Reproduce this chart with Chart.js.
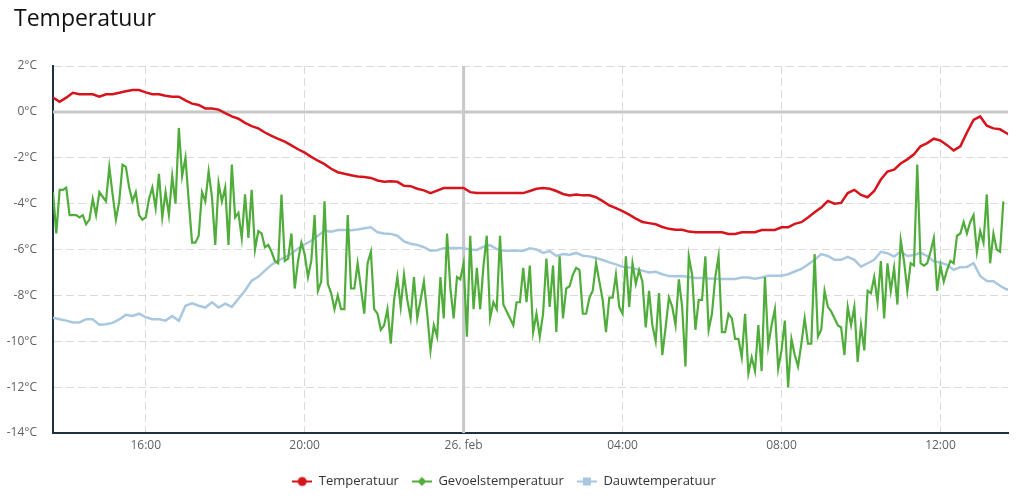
<!DOCTYPE html>
<html lang="nl">
<head>
<meta charset="utf-8">
<title>Temperatuur</title>
<script src="https://cdn.jsdelivr.net/npm/chart.js@4.4.1/dist/chart.umd.min.js"></script>
<style>
  html, body { margin: 0; padding: 0; background: #fff; }
  #wrap { position: relative; width: 1024px; height: 501px; }
  #titel {
    position: absolute; left: 14px; top: 1px; margin: 0;
    font: 500 23px 'Open Sans', sans-serif; line-height: normal; color: #111;
  }
</style>
</head>
<body>
<div id="wrap">
  <h2 id="titel">Temperatuur</h2>
  <canvas id="chart"></canvas>
</div>
<script>
// tijd in uren t.o.v. 26 feb 00:00, eerste meting 25 feb 13:40
const startUur = -10 - 20 / 60;
const eindUur = 13.7;
const stapTemp = 10 / 60;   // temperatuur en dauwpunt: elke 10 min
const stapGevoel = 5 / 60;  // gevoelstemperatuur: elke 5 min

const tickUren = [-8, -4, 0, 4, 8, 12];
const tickLabels = ['16:00', '20:00', '26. feb', '04:00', '08:00', '12:00'];
const yMin = -14, yMax = 2, yStap = 2;

const temperatuur = [
  0.63, 0.44, 0.62, 0.83, 0.77, 0.77, 0.77, 0.66, 0.77, 0.77,
  0.83, 0.9, 0.95, 0.95, 0.85, 0.77, 0.77, 0.7, 0.66, 0.66,
  0.5, 0.36, 0.3, 0.15, 0.15, 0.1, -0.05, -0.2, -0.3, -0.48,
  -0.62, -0.72, -0.9, -1.05, -1.18, -1.3, -1.46, -1.63, -1.78, -1.96,
  -2.13, -2.28, -2.48, -2.63, -2.7, -2.76, -2.82, -2.84, -2.88, -2.99,
  -3.05, -3.02, -3.05, -3.22, -3.24, -3.35, -3.42, -3.54, -3.43, -3.32,
  -3.32, -3.32, -3.32, -3.5, -3.54, -3.54, -3.54, -3.54, -3.54, -3.54,
  -3.54, -3.54, -3.45, -3.35, -3.32, -3.35, -3.45, -3.58, -3.64, -3.6,
  -3.64, -3.64, -3.72, -3.89, -4.08, -4.2, -4.33, -4.48, -4.65, -4.8,
  -4.85, -4.9, -5.02, -5.1, -5.14, -5.14, -5.22, -5.25, -5.25, -5.25,
  -5.25, -5.25, -5.32, -5.32, -5.25, -5.25, -5.25, -5.15, -5.15, -5.15,
  -5.03, -5.03, -4.88, -4.81, -4.6, -4.38, -4.17, -3.88, -4.0, -3.97,
  -3.54, -3.4, -3.62, -3.72, -3.45, -2.95, -2.6, -2.52, -2.25, -2.07,
  -1.85, -1.5, -1.36, -1.17, -1.25, -1.45, -1.68, -1.5, -0.9, -0.35,
  -0.2, -0.6, -0.72, -0.76, -0.93, -1.1
];

const dauwtemperatuur = [
  -8.97, -9.04, -9.1, -9.18, -9.18, -9.04, -9.04, -9.28, -9.26, -9.2,
  -9.05, -8.85, -8.9, -8.8, -8.95, -9.04, -9.04, -9.1, -8.9, -9.11,
  -8.45, -8.35, -8.45, -8.53, -8.3, -8.53, -8.36, -8.5, -8.15, -7.79,
  -7.36, -7.19, -6.92, -6.66, -6.49, -6.34, -6.18, -5.96, -5.77, -5.62,
  -5.4, -5.18, -5.22, -5.15, -5.15, -5.16, -5.13, -5.07, -5.03, -5.25,
  -5.3, -5.32, -5.4, -5.65, -5.75, -5.8, -5.9, -6.05, -6.03, -5.94,
  -5.93, -5.93, -5.95, -6.0, -6.02, -5.88, -5.81, -5.98, -6.05, -6.05,
  -6.05, -6.05, -5.95, -6.0, -6.15, -6.07, -6.28, -6.2, -6.23, -6.15,
  -6.27, -6.3, -6.37, -6.46, -6.56, -6.65, -6.75, -6.78, -6.85, -6.92,
  -7.0, -6.97, -7.08, -7.16, -7.17, -7.16, -7.2, -7.24, -7.24, -7.26,
  -7.28, -7.29, -7.29, -7.29, -7.22, -7.22, -7.27, -7.22, -7.14, -7.14,
  -7.14, -7.08, -6.96, -6.85, -6.65, -6.45, -6.2, -6.28, -6.45, -6.45,
  -6.32, -6.45, -6.75, -6.6, -6.45, -6.1, -6.16, -6.31, -6.09, -6.28,
  -6.24, -6.14, -6.29, -6.52, -6.57, -6.67, -6.89, -6.77, -6.76, -6.6,
  -7.15, -7.37, -7.38, -7.58, -7.75, -7.62
];

const gevoelstemperatuur = [
  -3.5, -5.3, -3.4, -3.4, -3.3, -4.5, -4.5, -4.5, -4.6, -4.5,
  -4.9, -4.7, -3.8, -4.5, -3.5, -3.7, -3.9, -2.4, -3.6, -4.7,
  -3.9, -2.3, -2.4, -3.3, -3.9, -3.5, -4.5, -4.7, -4.6, -3.8,
  -3.3, -4.2, -2.7, -4.6, -3.5, -4.5, -2.8, -4.0, -0.7, -2.8,
  -2.0, -3.9, -5.7, -5.7, -5.4, -3.5, -3.9, -2.6, -3.7, -5.8,
  -3.1,
  -3.9, -3.3, -5.8, -2.3, -4.6, -4.4, -5.5, -3.6, -5.5, -3.4,
  -6.0, -5.2, -5.3, -5.9, -5.8, -6.1, -6.5, -6.6, -3.6, -6.5,
  -6.4, -5.3, -7.7, -6.5, -5.7, -6.2, -7.2, -6.5, -4.5, -7.8,
  -7.4, -3.9, -7.5, -7.9, -8.6, -8.0, -8.6, -8.6, -4.5, -7.7,
  -7.7, -6.6, -7.7, -8.8, -6.6, -6.1, -8.6, -8.8, -9.5,
  -9.3, -8.6, -10.1, -8.2, -7.2, -8.5, -7.1, -8.2, -9.0, -7.2,
  -9.0, -8.2, -7.4, -8.8, -10.4, -9.3, -9.8, -7.2, -9.0, -5.3,
  -7.7, -9.0, -7.2, -7.3, -6.6, -9.8, -5.4, -8.6, -6.8, -8.6,
  -6.7, -5.4, -9.0, -8.3, -8.6, -5.4, -8.4, -8.7, -9.0, -9.3,
  -8.3, -8.3, -6.8, -8.3, -6.7, -9.6, -8.8, -9.8, -8.8, -6.4,
  -8.5, -6.7, -9.6, -6.3, -9.0, -7.7, -7.6, -7.1, -6.8, -6.9,
  -8.8, -8.8, -8.1, -7.8, -6.6, -7.4, -8.2, -9.6, -8.1, -8.1,
  -7.1, -8.5, -8.8, -6.3, -8.5, -6.6, -7.5, -6.9, -7.4, -9.4,
  -7.8, -9.3, -10.0, -7.9, -10.6, -9.4, -8.1, -8.5, -9.3, -7.3,
  -8.5, -11.1, -6.3, -7.1, -9.5, -8.2, -8.2, -6.3, -9.5, -8.8,
  -7.2, -6.3, -9.6, -9.6, -8.8, -9.0, -9.9, -9.9, -10.7, -8.8,
  -11.4, -10.7, -11.3, -9.3, -11.3, -7.2, -10.2, -9.3, -8.6, -11.2,
  -10.4, -9.1, -12.0, -9.9, -10.6, -11.1, -10.1, -9.0, -10.1, -10.1,
  -6.2, -9.8, -9.5, -7.8, -8.5, -8.7, -9.0, -9.3, -9.4, -10.6,
  -8.5, -9.3, -8.5, -10.9, -9.3, -10.4, -7.8, -7.9, -7.2,
  -8.3, -6.5, -9.0, -6.6, -7.8, -6.8, -8.4, -5.6, -6.5, -7.8,
  -6.6, -6.7, -2.3, -6.6, -6.7, -6.6, -6.1, -5.5, -7.8, -6.7,
  -7.4, -6.9, -6.5, -6.6, -5.4, -5.3, -4.8, -5.3, -4.8, -4.5,
  -6.1, -5.2, -5.7, -3.6, -6.6, -5.3, -6.0, -6.1, -3.9
];

const kleuren = {
  temp: '#d5141c',
  gevoel: '#50ad3b',
  dauw: '#a9c8df'
};

// meetwaarden koppelen aan hun tijdstip
function naarPunten(waarden, stap) {
  return waarden.map((v, i) => ({ x: startUur + i * stap, y: v }));
}

// klein legenda-icoon: lijntje met markering
function legendaIcoon(kleur, vorm) {
  const c = document.createElement('canvas');
  c.width = 20;
  c.height = 12;
  const g = c.getContext('2d');
  g.strokeStyle = kleur;
  g.fillStyle = kleur;
  g.lineWidth = 2;
  g.beginPath();
  g.moveTo(0, 6);
  g.lineTo(20, 6);
  g.stroke();
  g.beginPath();
  if (vorm === 'cirkel') {
    g.arc(10, 6, 4.5, 0, Math.PI * 2);
  } else if (vorm === 'ruit') {
    g.moveTo(10, 1.5);
    g.lineTo(14.5, 6);
    g.lineTo(10, 10.5);
    g.lineTo(5.5, 6);
    g.closePath();
  } else {
    g.rect(6, 2, 8, 8);
  }
  g.fill();
  return c;
}

const iconen = [
  legendaIcoon(kleuren.temp, 'cirkel'),
  legendaIcoon(kleuren.gevoel, 'ruit'),
  legendaIcoon(kleuren.dauw, 'vierkant')
];

// dikke grijze lijnen bij 0°C en bij middernacht
const nulLijnen = {
  id: 'nulLijnen',
  beforeDatasetsDraw(chart) {
    const { ctx, chartArea, scales } = chart;
    const y0 = scales.y.getPixelForValue(0);
    const x0 = scales.x.getPixelForValue(0);
    ctx.save();
    ctx.strokeStyle = '#c8c8c8';
    ctx.lineWidth = 3;
    ctx.beginPath();
    ctx.moveTo(chartArea.left, y0);
    ctx.lineTo(chartArea.right, y0);
    ctx.moveTo(x0, chartArea.top);
    ctx.lineTo(x0, chartArea.bottom);
    ctx.stroke();
    ctx.restore();
  }
};

Chart.defaults.font.family = "'Open Sans', sans-serif";

const gridKleur = c => (c.tick && c.tick.value === 0 ? 'rgba(0,0,0,0)' : '#dadada');

new Chart(document.getElementById('chart'), {
  type: 'line',
  data: {
    datasets: [
      {
        label: 'Temperatuur',
        data: naarPunten(temperatuur, stapTemp),
        borderColor: kleuren.temp,
        backgroundColor: kleuren.temp,
        borderWidth: 2.5
      },
      {
        label: 'Gevoelstemperatuur',
        data: naarPunten(gevoelstemperatuur, stapGevoel),
        borderColor: kleuren.gevoel,
        backgroundColor: kleuren.gevoel,
        borderWidth: 2.2
      },
      {
        label: 'Dauwtemperatuur',
        data: naarPunten(dauwtemperatuur, stapTemp),
        borderColor: kleuren.dauw,
        backgroundColor: kleuren.dauw,
        borderWidth: 2.5
      }
    ]
  },
  options: {
    responsive: true,
    maintainAspectRatio: false,
    animation: false,
    layout: { padding: { left: 0, right: 16, top: 66, bottom: 3 } },
    elements: {
      point: { radius: 0 },
      line: { tension: 0 }
    },
    plugins: {
      title: { display: false },
      legend: {
        position: 'bottom',
        labels: {
          usePointStyle: true,
          pointStyleWidth: 20,
          padding: 13,
          color: '#333',
          font: { size: 13 },
          generateLabels(chart) {
            const basis = Chart.defaults.plugins.legend.labels.generateLabels(chart);
            return basis.map(l => Object.assign(l, { pointStyle: iconen[l.datasetIndex] }));
          }
        }
      },
      tooltip: { enabled: false }
    },
    scales: {
      x: {
        type: 'linear',
        min: startUur,
        max: eindUur,
        afterBuildTicks(s) {
          s.ticks = tickUren.map(v => ({ value: v }));
        },
        afterFit(s) { s.height = 29; },
        ticks: {
          autoSkip: false,
          maxRotation: 0,
          padding: 5,
          color: '#5f5f5f',
          font: { size: 12 },
          callback: v => tickLabels[tickUren.indexOf(v)]
        },
        grid: { color: gridKleur, drawTicks: false, lineWidth: 1 },
        border: { display: true, color: '#1d3140', width: 2, dash: [8, 4] }
      },
      y: {
        min: yMin,
        max: yMax,
        afterFit(s) { s.width = 53; },
        ticks: {
          stepSize: yStap,
          padding: 16,
          color: '#5f5f5f',
          font: { size: 12 },
          callback: v => v + '°C'
        },
        grid: { color: gridKleur, drawTicks: false, lineWidth: 1 },
        border: { display: true, color: '#1d3140', width: 2, dash: [8, 4] }
      }
    }
  },
  plugins: [nulLijnen]
});
</script>
</body>
</html>
